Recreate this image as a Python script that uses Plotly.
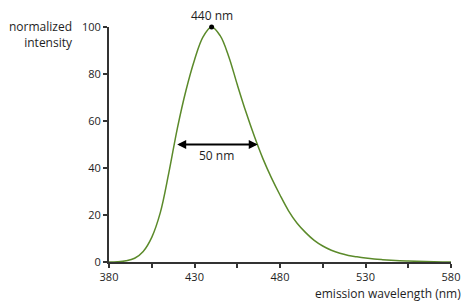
import plotly.graph_objects as go

wavelength = [380, 385, 390, 395, 400, 405, 410, 415, 420, 425, 430, 435, 440,
              445, 450, 455, 460, 465, 470, 475, 480, 485, 490, 495, 500, 505,
              510, 515, 520, 525, 530, 535, 540, 545, 550, 555, 560, 565, 570,
              575, 580]
intensity = [0, 0.1, 0.5, 1.6, 4.5, 10.5, 21, 38, 57, 73, 86, 95.8, 100,
             96.3, 87.5, 75.5, 64, 53.5, 44, 35.8, 28.5, 21.8, 16.5, 12.5,
             9.2, 6.8, 5, 3.7, 2.8, 2.2, 1.7, 1.3, 1.0, 0.75, 0.55, 0.4, 0.28,
             0.18, 0.1, 0.05, 0.02]

peak_wl = 440
peak_val = 100
fwhm_left = 419
fwhm_right = 467
half_max = 50
fwhm_label = "50 nm"

x_tickvals = [380, 405, 430, 455, 480, 505, 530, 555, 580]
x_ticktext = ["380", "", "430", "", "480", "", "530", "", "580"]
y_tickvals = [0, 20, 40, 60, 80, 100]

FONT = "Open Sans"
TXT = "#1e1e1e"
AX = "#333333"

fig = go.Figure()
fig.add_trace(go.Scatter(x=wavelength, y=intensity, mode="lines",
                         line=dict(color="#5b8a2a", width=1.5, shape="spline",
                                   smoothing=1.0),
                         hoverinfo="skip", showlegend=False))
fig.add_trace(go.Scatter(x=[peak_wl], y=[peak_val], mode="markers",
                         marker=dict(color="black", size=5),
                         showlegend=False, cliponaxis=False))

fig.add_annotation(x=fwhm_right, y=half_max, ax=fwhm_left, ay=half_max,
                   xref="x", yref="y", axref="x", ayref="y", text="",
                   showarrow=True, arrowhead=2, startarrowhead=2,
                   arrowside="end+start", arrowsize=1, startarrowsize=1,
                   arrowwidth=1.8, arrowcolor="black", standoff=0, startstandoff=0)
fig.add_annotation(x=(fwhm_left + fwhm_right) / 2, y=half_max, xref="x", yref="y",
                   text=fwhm_label, showarrow=False, yshift=-11,
                   font=dict(family=FONT, size=12, color=TXT))
fig.add_annotation(x=peak_wl, y=peak_val, xref="x", yref="y",
                   text=f"{peak_wl} nm", showarrow=False, yshift=12,
                   font=dict(family=FONT, size=12, color=TXT))

fig.add_annotation(x=-0.098, y=0.966, xref="paper", yref="paper",
                   text="normalized<br>intensity", showarrow=False,
                   xanchor="right", yanchor="middle", align="right",
                   font=dict(family=FONT, size=12, color=TXT))
fig.add_annotation(x=1.035, y=-0.132, xref="paper", yref="paper",
                   text="emission wavelength (nm)", showarrow=False,
                   xanchor="right", yanchor="middle",
                   font=dict(family=FONT, size=12, color=TXT))

fig.update_layout(
    width=474, height=305,
    margin=dict(l=109, r=23, t=27, b=43),
    paper_bgcolor="white", plot_bgcolor="white",
    font=dict(family=FONT, size=11, color=TXT),
    xaxis=dict(range=[380, 580], tickvals=x_tickvals, ticktext=x_ticktext,
               showgrid=False, zeroline=False, showline=True, linecolor=AX,
               linewidth=1.8, ticks="outside", ticklen=4, tickwidth=1.5,
               tickcolor=AX, tickfont=dict(family=FONT, size=11, color=TXT)),
    yaxis=dict(range=[0, 100], tickvals=y_tickvals,
               showgrid=False, zeroline=False, showline=True, linecolor=AX,
               linewidth=1.8, ticks="outside", ticklen=4, tickwidth=1.5,
               tickcolor=AX, tickfont=dict(family=FONT, size=11, color=TXT)),
)

fig.write_html("out.html")
